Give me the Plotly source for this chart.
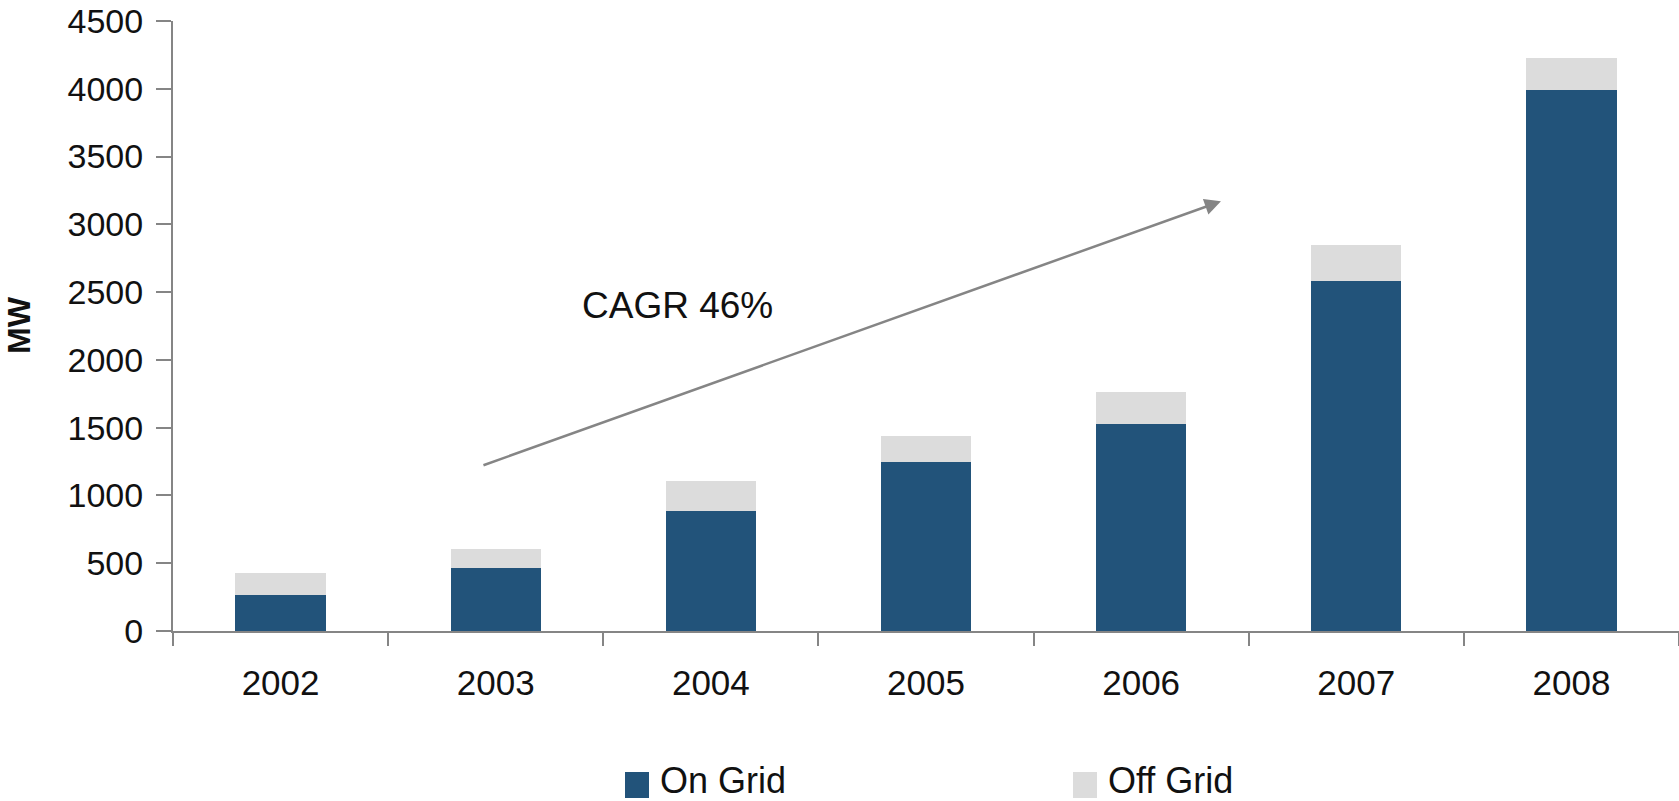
import plotly.graph_objects as go

years = ["2002", "2003", "2004", "2005", "2006", "2007", "2008"]
on_grid = [268, 465, 883, 1245, 1530, 2585, 3988]
off_grid = [157, 142, 220, 197, 236, 260, 236]
y_ticks = [0, 500, 1000, 1500, 2000, 2500, 3000, 3500, 4000, 4500]

ON_COLOR = "#22537A"
OFF_COLOR = "#DCDCDC"
AXIS_COLOR = "#858585"
FONT = "Liberation Sans, Arial, Helvetica, sans-serif"
TEXT_COLOR = "#111111"

W, H = 1679, 801
L, R, T = 173, 0, 21
B = H - 631
PW, PH = W - L - R, H - T - B

def px_x(sx):
    return (sx - L) / PW

def px_y(sy):
    return (H - B - sy) / PH

fig = go.Figure()
fig.add_trace(go.Bar(x=years, y=on_grid, name="On Grid", marker=dict(color=ON_COLOR, line=dict(width=0))))
fig.add_trace(go.Bar(x=years, y=off_grid, name="Off Grid", marker=dict(color=OFF_COLOR, line=dict(width=0))))

fig.update_layout(
    width=W, height=H,
    barmode="stack", bargap=0.58,
    plot_bgcolor="white", paper_bgcolor="white",
    margin=dict(l=L, r=R, t=T, b=B, autoexpand=False),
    showlegend=False,
    font=dict(family=FONT, color=TEXT_COLOR),
)
fig.update_xaxes(
    type="category", showgrid=False, showline=True, linecolor=AXIS_COLOR, linewidth=2,
    ticks="outside", tickson="boundaries", ticklen=13, tickwidth=2, tickcolor=AXIS_COLOR,
    tickfont=dict(size=35, family=FONT, color=TEXT_COLOR), ticklabelstandoff=20, automargin=False,
)
fig.update_yaxes(
    range=[0, 4500], tickvals=y_ticks, showgrid=False, zeroline=False,
    showline=True, linecolor=AXIS_COLOR, linewidth=2,
    ticks="outside", ticklen=15, tickwidth=2, tickcolor=AXIS_COLOR,
    tickfont=dict(size=34, family=FONT, color=TEXT_COLOR), ticklabelstandoff=6, automargin=False,
    ticklabeloverflow="allow",
)

# y-axis title
fig.add_annotation(x=px_x(19), y=px_y(325), xref="paper", yref="paper", text="<b>MW</b>",
                   textangle=-90, showarrow=False, xanchor="center", yanchor="middle",
                   font=dict(size=32, family=FONT, color=TEXT_COLOR))

# CAGR arrow
fig.add_annotation(
    x=4.371, y=3170, ax=0.936, ay=1219, xref="x", yref="y", axref="x", ayref="y",
    showarrow=True, arrowhead=2, arrowsize=1.3, arrowwidth=2.5, arrowcolor=AXIS_COLOR, text="",
)
fig.add_annotation(
    x=1.843, y=2400, xref="x", yref="y", text="CAGR 46%", showarrow=False,
    font=dict(size=37, family=FONT, color=TEXT_COLOR),
)

# legend (manual)
legend_items = [("On Grid", ON_COLOR, 625), ("Off Grid", OFF_COLOR, 1073)]
for label, color, sx in legend_items:
    fig.add_shape(type="rect", xref="paper", yref="paper",
                  x0=px_x(sx), x1=px_x(sx + 24), y0=px_y(798), y1=px_y(772),
                  fillcolor=color, line=dict(width=0))
    fig.add_annotation(x=px_x(sx + 33), y=px_y(780), xref="paper", yref="paper",
                       xanchor="left", yanchor="middle", text=label, showarrow=False,
                       font=dict(size=36, family=FONT, color=TEXT_COLOR))

fig.write_html("out.html", config={"displayModeBar": False},
               post_script="document.body.style.margin='0';")
